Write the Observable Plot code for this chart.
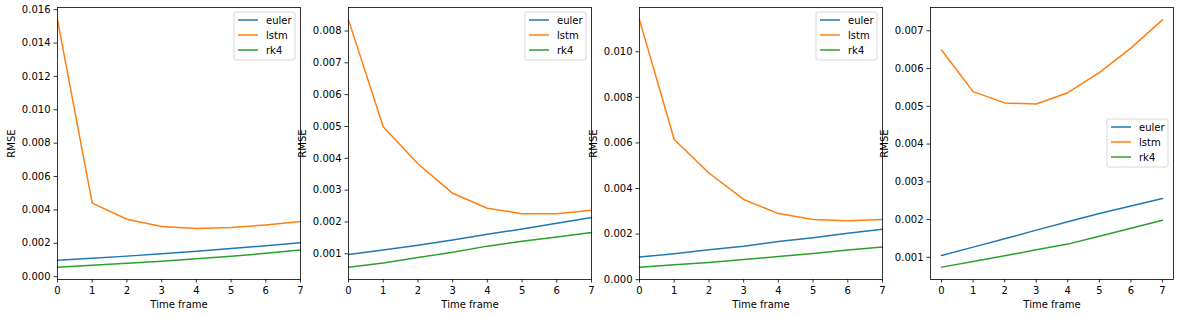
<!DOCTYPE html>
<html>
<head>
<meta charset="utf-8">
<script src="https://cdn.jsdelivr.net/npm/d3@7"></script>
<script src="https://cdn.jsdelivr.net/npm/@observablehq/plot@0.6"></script>
<style>
  html, body { margin: 0; padding: 0; background: #fff; }
  #fig { position: relative; width: 1179px; height: 317px; overflow: hidden; font-family: "DejaVu Sans", sans-serif; }
  #fig > .panel { position: absolute; top: 0; }
  .legend { position: absolute; }
</style>
</head>
<body>
<div id="fig"></div>
<script>
// ---- data ----
const timeFrames = [0, 1, 2, 3, 4, 5, 6, 7];
const seriesNames = ["euler", "lstm", "rk4"];
const seriesColors = ["#1f77b4", "#ff7f0e", "#2ca02c"];

const p1Euler = [0.00098, 0.00110, 0.00123, 0.00137, 0.00152, 0.00168, 0.00185, 0.00203];
const p1Lstm  = [0.01539, 0.00441, 0.00344, 0.00300, 0.00288, 0.00294, 0.00310, 0.00330];
const p1Rk4   = [0.00057, 0.00068, 0.00080, 0.00093, 0.00107, 0.00122, 0.00140, 0.00160];

const p2Euler = [0.00098, 0.00112, 0.00127, 0.00143, 0.00161, 0.00178, 0.00196, 0.00214];
const p2Lstm  = [0.00835, 0.00499, 0.00383, 0.00290, 0.00243, 0.00226, 0.00226, 0.00237];
const p2Rk4   = [0.00058, 0.00071, 0.00088, 0.00105, 0.00124, 0.00139, 0.00153, 0.00167];

const p3Euler = [0.00099, 0.00114, 0.00131, 0.00147, 0.00167, 0.00184, 0.00204, 0.00221];
const p3Lstm  = [0.01140, 0.00615, 0.00468, 0.00352, 0.00290, 0.00264, 0.00258, 0.00264];
const p3Rk4   = [0.00055, 0.00065, 0.00075, 0.00088, 0.00102, 0.00115, 0.00130, 0.00143];

const p4Euler = [0.00105, 0.00127, 0.00149, 0.00172, 0.00194, 0.00216, 0.00236, 0.00256];
const p4Lstm  = [0.00649, 0.00539, 0.00509, 0.00506, 0.00536, 0.00589, 0.00654, 0.00729];
const p4Rk4   = [0.00074, 0.00089, 0.00104, 0.00120, 0.00135, 0.00156, 0.00177, 0.00198];

const xTicks = [0, 1, 2, 3, 4, 5, 6, 7];
const p1YTicks = [0.000, 0.002, 0.004, 0.006, 0.008, 0.010, 0.012, 0.014, 0.016];
const p2YTicks = [0.001, 0.002, 0.003, 0.004, 0.005, 0.006, 0.007, 0.008];
const p3YTicks = [0.000, 0.002, 0.004, 0.006, 0.008, 0.010];
const p4YTicks = [0.001, 0.002, 0.003, 0.004, 0.005, 0.006, 0.007];

const xLabel = "Time frame";
const yLabel = "RMSE";

// ---- build ----
function table(euler, lstm, rk4) {
  const rows = [];
  [euler, lstm, rk4].forEach((vals, i) => {
    vals.forEach((v, j) => rows.push({ t: timeFrames[j], rmse: v, series: seriesNames[i] }));
  });
  return rows;
}

const panels = [
  { data: table(p1Euler, p1Lstm, p1Rk4), yTicks: p1YTicks, xPad: false, legend: "upper right" },
  { data: table(p2Euler, p2Lstm, p2Rk4), yTicks: p2YTicks, xPad: false, legend: "upper right" },
  { data: table(p3Euler, p3Lstm, p3Rk4), yTicks: p3YTicks, xPad: false, legend: "upper right" },
  { data: table(p4Euler, p4Lstm, p4Rk4), yTicks: p4YTicks, xPad: true, legend: "center right" }
];

const W = 301, H = 317, ML = 57, MR = 1, MT = 7, MB = 38;
const fig = document.getElementById("fig");
const offsets = [0, 291, 582, 873];

function padded(lo, hi) { const m = (hi - lo) * 0.05; return [lo - m, hi + m]; }

panels.forEach((p, i) => {
  const ys = p.data.map(d => d.rmse);
  const yDomain = padded(d3.min(ys), d3.max(ys));
  const xDomain = p.xPad ? padded(0, 7) : [0, 7];
  const chart = Plot.plot({
    width: W, height: H,
    marginLeft: ML, marginRight: MR, marginTop: MT, marginBottom: MB,
    style: { fontFamily: "DejaVu Sans, sans-serif", fontSize: "10px", color: "#000", background: "transparent", overflow: "visible" },
    x: { domain: xDomain },
    y: { domain: yDomain },
    color: { domain: seriesNames, range: seriesColors },
    marks: [
      Plot.line(p.data, { x: "t", y: "rmse", z: "series", stroke: "series", strokeWidth: 1.5 }),
      Plot.frame({ stroke: "#000", strokeWidth: 0.8 }),
      Plot.axisX({ ticks: xTicks, tickSize: 3.5, tickPadding: 3.5, strokeWidth: 0.8, fontSize: 10,
        tickFormat: d3.format("d"),
        label: xLabel, labelAnchor: "center", labelArrow: "none", labelOffset: 28 }),
      Plot.axisY({ ticks: p.yTicks, tickSize: 3.5, tickPadding: 3.5, strokeWidth: 0.8, fontSize: 10,
        tickFormat: d3.format(".3f"),
        label: yLabel, labelAnchor: "center", labelArrow: "none", labelOffset: 50 })
    ]
  });
  const wrap = document.createElement("div");
  wrap.className = "panel";
  wrap.style.left = offsets[i] + "px";
  wrap.style.width = W + "px";
  wrap.style.height = H + "px";
  wrap.appendChild(chart);
  fig.appendChild(wrap);

  // legend (matplotlib style)
  const lw = 61, lh = 48;
  const axRight = offsets[i] + W - MR;
  const left = axRight - 5 - lw;
  const top = p.legend === "upper right" ? MT + 5 : MT + (H - MT - MB) / 2 - lh / 2;
  const svg = d3.create("svg").attr("class", "legend").attr("width", lw + 2).attr("height", lh + 2)
    .style("left", (left - 1) + "px").style("top", (top - 1) + "px");
  svg.append("rect").attr("x", 1).attr("y", 1).attr("width", lw).attr("height", lh)
    .attr("rx", 2).attr("fill", "rgba(255,255,255,0.8)").attr("stroke", "#cccccc").attr("stroke-width", 0.8);
  seriesNames.forEach((name, k) => {
    const cy = 1 + 8 + k * 15;
    svg.append("line").attr("x1", 5).attr("x2", 25).attr("y1", cy).attr("y2", cy)
      .attr("stroke", seriesColors[k]).attr("stroke-width", 1.5);
    svg.append("text").attr("x", 33).attr("y", cy).attr("dy", "0.35em")
      .attr("font-family", "DejaVu Sans, sans-serif").attr("font-size", 10).attr("fill", "#000").text(name);
  });
  fig.appendChild(svg.node());
});
</script>
</body>
</html>
